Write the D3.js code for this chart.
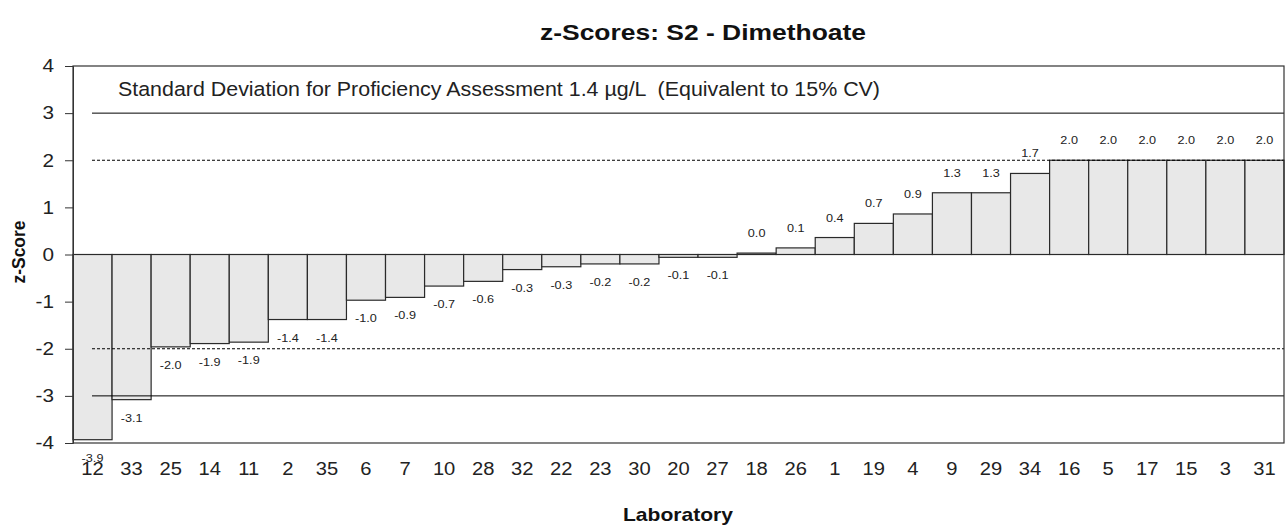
<!DOCTYPE html>
<html>
<head>
<meta charset="utf-8">
<script src="https://cdn.jsdelivr.net/npm/d3@7"></script>
<style>
  body { margin: 0; background: #fff; }
  text { font-family: "Liberation Sans", Arial, sans-serif; }
</style>
</head>
<body>
<div id="chart"></div>
<script>
const labs = ["12", "33", "25", "14", "11", "2", "35", "6", "7", "10", "28", "32", "22", "23", "30", "20", "27", "18", "26", "1", "19", "4", "9", "29", "34", "16", "5", "17", "15", "3", "31"];
const zScores = [-3.93, -3.08, -1.96, -1.89, -1.86, -1.38, -1.38, -0.97, -0.91, -0.67, -0.57, -0.32, -0.26, -0.2, -0.2, -0.06, -0.06, 0.03, 0.14, 0.36, 0.66, 0.86, 1.31, 1.31, 1.72, 2.0, 2.0, 2.0, 2.0, 2.0, 2.0];
const yTicks = [-4, -3, -2, -1, 0, 1, 2, 3, 4];
const limitLines = [{ v: 3, dash: null }, { v: -3, dash: null }, { v: 2, dash: "3,2" }, { v: -2, dash: "3,2" }];

const width = 1287, height = 529;
const margin = ({ top: 66, right: 3, bottom: 86, left: 73 });

const svg = d3.select("#chart").append("svg")
    .attr("width", width)
    .attr("height", height);

const xScale = d3.scaleBand().domain(labs).range([margin.left, width - margin.right]).padding(0);
const yScale = d3.scaleLinear().domain([-4, 4]).range([height - margin.bottom, margin.top]);

const data = labs.map((lab, i) => ({ lab: lab, z: zScores[i] }));

const fmt = v => (v < 0 ? "-" : "") + Math.abs(v).toFixed(1);

// the reference text is a bit wider than Liberation Sans, stretch it
function stretch(sel, k) {
    sel.each(function () {
        const len = this.getComputedTextLength();
        d3.select(this).attr("textLength", len * k).attr("lengthAdjust", "spacingAndGlyphs");
    });
}

// bars
svg.append("g")
    .selectAll("rect")
    .data(data)
    .join("rect")
    .attr("x", d => xScale(d.lab))
    .attr("width", xScale.bandwidth())
    .attr("y", d => yScale(Math.max(0, d.z)))
    .attr("height", d => Math.abs(yScale(d.z) - yScale(0)))
    .attr("fill", "#e8e8e8")
    .attr("stroke", "#2a2a2a")
    .attr("stroke-width", 1.2);

// limit lines
svg.append("g")
    .selectAll("line")
    .data(limitLines)
    .join("line")
    .attr("x1", 92)
    .attr("x2", width - margin.right)
    .attr("y1", d => yScale(d.v))
    .attr("y2", d => yScale(d.v))
    .attr("stroke", "#000")
    .attr("stroke-width", 1)
    .attr("stroke-dasharray", d => d.dash);

// plot frame
svg.append("rect")
    .attr("x", margin.left)
    .attr("y", margin.top)
    .attr("width", width - margin.right - margin.left)
    .attr("height", height - margin.bottom - margin.top)
    .attr("fill", "none")
    .attr("stroke", "#333")
    .attr("stroke-width", 1.2);

// y axis
const yAxis = svg.append("g")
    .attr("transform", `translate(${margin.left},0)`)
    .call(d3.axisLeft(yScale).tickValues(yTicks).tickFormat(d => String(d)).tickSize(8).tickPadding(11));
yAxis.select(".domain").attr("stroke", "#333");
yAxis.selectAll(".tick line").attr("stroke", "#333");
const yLabels = yAxis.selectAll("text").attr("font-size", 18).attr("fill", "#222")
    .style("font-family", "'Liberation Sans', Arial, sans-serif");
stretch(yLabels, 1.15);

// x labels
const xLabels = svg.append("g")
    .selectAll("text")
    .data(data)
    .join("text")
    .attr("x", d => xScale(d.lab) + xScale.bandwidth() / 2)
    .attr("y", 475)
    .attr("text-anchor", "middle")
    .attr("font-size", 18)
    .attr("fill", "#222")
    .text(d => d.lab);
stretch(xLabels, 1.12);

// value labels
const valLabels = svg.append("g")
    .selectAll("text")
    .data(data)
    .join("text")
    .attr("x", d => xScale(d.lab) + xScale.bandwidth() / 2)
    .attr("y", d => d.z >= 0 ? yScale(d.z) - 19 : yScale(d.z) + 19)
    .attr("dominant-baseline", "middle")
    .attr("text-anchor", "middle")
    .attr("font-size", 11.5)
    .attr("fill", "#222")
    .text(d => fmt(d.z));
stretch(valLabels, 1.1);

// annotation
svg.append("text")
    .attr("x", 118)
    .attr("y", 96)
    .attr("font-size", 20.5)
    .attr("fill", "#222")
    .attr("xml:space", "preserve")
    .attr("textLength", 762)
    .attr("lengthAdjust", "spacingAndGlyphs")
    .text("Standard Deviation for Proficiency Assessment 1.4 µg/L  (Equivalent to 15% CV)");

// titles
svg.append("text")
    .attr("x", 703)
    .attr("y", 40)
    .attr("text-anchor", "middle")
    .attr("font-size", 22)
    .attr("font-weight", "bold")
    .attr("fill", "#111")
    .attr("textLength", 326)
    .attr("lengthAdjust", "spacingAndGlyphs")
    .text("z-Scores: S2 - Dimethoate");

svg.append("text")
    .attr("x", 678)
    .attr("y", 521)
    .attr("text-anchor", "middle")
    .attr("font-size", 19)
    .attr("font-weight", "bold")
    .attr("fill", "#111")
    .attr("textLength", 110)
    .attr("lengthAdjust", "spacingAndGlyphs")
    .text("Laboratory");

svg.append("text")
    .attr("transform", `translate(25,252) rotate(-90)`)
    .attr("text-anchor", "middle")
    .attr("font-size", 18.5)
    .attr("font-weight", "bold")
    .attr("fill", "#111")
    .attr("textLength", 63)
    .attr("lengthAdjust", "spacingAndGlyphs")
    .text("z-Score");
</script>
</body>
</html>
